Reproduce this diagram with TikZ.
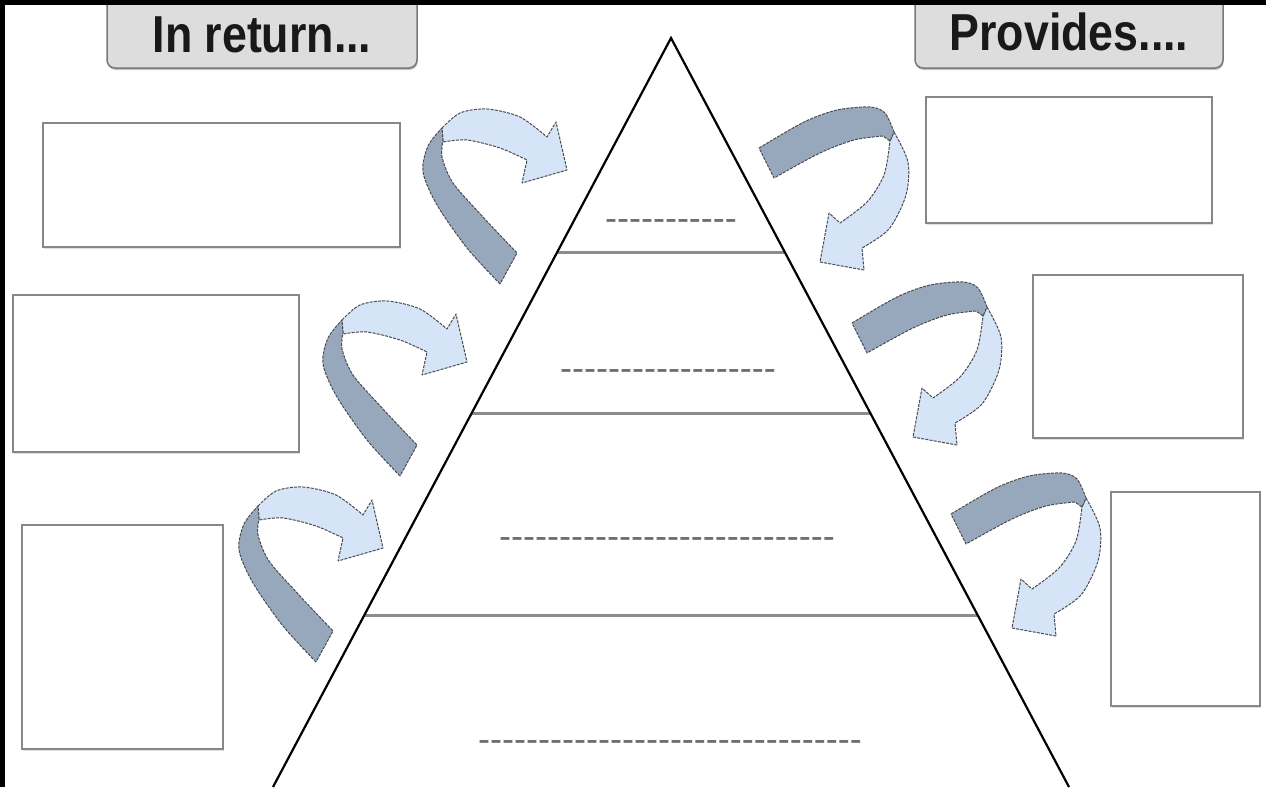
\documentclass[tikz,border=0pt]{standalone}
\usepackage{fontspec}
\setmainfont{Liberation Sans}
\newfontfamily\hdrfont[FakeStretch=0.86]{Liberation Sans}
\newfontfamily\dashfont[Ligatures=TeXOff]{Liberation Sans}
\usetikzlibrary{calc,shadows}
\definecolor{ribD}{RGB}{152,168,188}
\definecolor{ribL}{RGB}{213,228,246}
\definecolor{ribO}{RGB}{75,75,80}
\definecolor{boxC}{RGB}{135,135,135}
\definecolor{hdrF}{RGB}{221,221,221}
\definecolor{hdrO}{RGB}{120,120,120}
\definecolor{tierC}{RGB}{140,140,140}
\definecolor{blankC}{RGB}{110,110,110}
\tikzset{
  box/.style={draw=boxC, line width=2pt, fill=white, inner sep=0pt,
    drop shadow={opacity=0.25, shadow xshift=1pt, shadow yshift=-1.5pt}},
  hdrbox/.style={draw=hdrO, line width=1.5pt, fill=hdrF, rounded corners=8pt, inner sep=0pt,
    drop shadow={opacity=0.45, shadow xshift=0.5pt, shadow yshift=-2pt}},
  hdrtext/.style={font=\hdrfont\bfseries\fontsize{52}{60}\selectfont, text={rgb,255:red,25;green,25;blue,25}, inner sep=0pt, anchor=base},
  blank/.style={font=\dashfont\fontsize{36}{40}\selectfont, text=blankC, inner sep=0pt, anchor=base},
  tier/.style={draw=tierC, line width=3pt},
  side/.style={draw=black, line width=2.2pt},
  ribdark/.style={fill=ribD, draw=ribO, line width=1pt, dash pattern=on 3pt off 1.2pt, line join=round},
  riblight/.style={fill=ribL, draw=ribO, line width=1pt, dash pattern=on 3pt off 1.2pt, line join=round},
}
\newcommand\curlA{%
  \filldraw[riblight] plot[smooth] coordinates {(442,128) (460,113) (487,109) (520,117) (547,137)}
    -- (556,122) -- (567,170) -- (522,183)
    -- plot[smooth] coordinates {(527,160) (500,148) (467,140) (443,142)} -- cycle;
  \filldraw[ribdark] plot[smooth] coordinates {(500,284) (467,248) (437,205) (423,172) (428,146) (442,128)}
    -- plot[smooth] coordinates {(443,141) (442,157) (453,183) (483,217) (517,253)} -- cycle;
}
\newcommand\curlB{%
  \filldraw[riblight] plot[smooth] coordinates {(987,307) (1001,337) (999,370) (982,404) (955,423)}
    -- (957,445) -- (913,437) -- (922,388)
    -- plot[smooth] coordinates {(933,398) (960,377) (977,350) (983,316)} -- cycle;
  \filldraw[ribdark] plot[smooth] coordinates {(852,323) (897,297) (930,285) (963,282) (978,288) (987,307)}
    -- (983,316)
    -- plot[smooth] coordinates {(976,311) (947,315) (913,328) (867,353)} -- cycle;
}
\begin{document}
\begin{tikzpicture}[x=1pt,y=-1pt]
\useasboundingbox (0,0) rectangle (1266,787);
\fill[white] (0,0) rectangle (1266,787);

% pyramid
\coordinate (apex) at (671,38);
\coordinate (bl) at (273,787);
\coordinate (br) at (1069,787);
\draw[tier] ($(apex)!0.2870!(bl)$) -- ($(apex)!0.2870!(br)$);
\draw[tier] ($(apex)!0.5007!(bl)$) -- ($(apex)!0.5007!(br)$);
\draw[tier] ($(apex)!0.7704!(bl)$) -- ($(apex)!0.7704!(br)$);
\draw[side, line join=miter] (bl) -- (apex) -- (br);

\node[blank] (d1) at (671,230) {-----------};
\node[blank] (d2) at (668,380) {------------------};
\node[blank] (d3) at (667,548) {----------------------------};
\node[blank] (d4) at (670,751) {--------------------------------};

% header boxes
\node[hdrbox, minimum width=310pt, minimum height=76pt] (hL) at (262,30) {};
\node[hdrbox, minimum width=308pt, minimum height=76pt] (hR) at (1069,30) {};
\node[hdrtext] (tL) at (262,52) {In return...};
\node[hdrtext] (tR) at (1069,50) {Provides....};

% left boxes
\node[box, minimum width=357pt, minimum height=124pt] (L1) at (221.5,185) {};
\node[box, minimum width=286pt, minimum height=157pt] (L2) at (156,373.5) {};
\node[box, minimum width=201pt, minimum height=224pt] (L3) at (122.5,637) {};
% right boxes
\node[box, minimum width=286pt, minimum height=126pt] (R1) at (1069,160) {};
\node[box, minimum width=210pt, minimum height=163pt] (R2) at (1138,356.5) {};
\node[box, minimum width=149pt, minimum height=214pt] (R3) at (1185.5,599) {};

% curled arrows
\begin{scope}\curlA\end{scope}
\begin{scope}[shift={(-100,192)}]\curlA\end{scope}
\begin{scope}[shift={(-184,378)}]\curlA\end{scope}
\begin{scope}[shift={(-93,-175)}]\curlB\end{scope}
\begin{scope}\curlB\end{scope}
\begin{scope}[shift={(99,191)}]\curlB\end{scope}

% black frame strips
\fill[black] (0,0) rectangle (1266,5);
\fill[black] (0,0) rectangle (5,787);
\end{tikzpicture}
\end{document}
